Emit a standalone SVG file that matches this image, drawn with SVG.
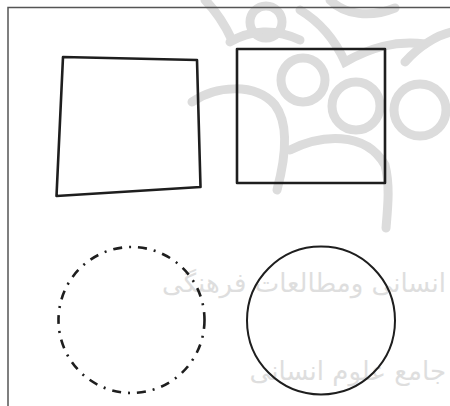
<svg xmlns="http://www.w3.org/2000/svg" width="450" height="406" viewBox="0 0 450 406">
  <style>
    .shape { fill: none; stroke: #1e1e1e; stroke-linejoin: round; }
    .wm { fill: none; stroke: #dcdcdc; stroke-width: 9; stroke-linecap: round; }
    .wmtext { fill: #dedede; font-family: "DejaVu Sans", "Noto Sans", sans-serif; font-size: 26px; text-anchor: end; }
  </style>
  <rect width="450" height="406" fill="#ffffff"/>
  <g id="watermark">
    <path class="wm" d="M192,102 C215,86 255,82 275,105 C290,125 285,160 277,190"/>
    <path class="wm" d="M290,150 C320,135 365,130 385,165 C390,185 388,205 386,228"/>
    <path class="wm" d="M205,0 C215,10 225,25 232,40"/>
    <path class="wm" d="M230,42 C250,30 275,28 300,40"/>
    <circle class="wm" cx="303" cy="80" r="22"/>
    <circle class="wm" cx="356" cy="106" r="24"/>
    <circle class="wm" cx="420" cy="110" r="26"/>
    <circle class="wm" cx="266" cy="22" r="16"/>
    <path class="wm" d="M300,10 C320,22 335,40 345,62 C370,48 395,40 425,44"/>
    <path class="wm" d="M330,0 C345,15 370,18 395,8"/>
    <path class="wm" d="M405,62 C420,45 438,35 452,32"/>
    <text class="wmtext" x="446" y="292">انسانی ومطالعات فرهنگی</text>
    <text class="wmtext" x="446" y="380">جامع علوم انسانی</text>
  </g>
  <g id="frame">
    <path d="M8,406 V7.5 H450" fill="none" stroke="#555" stroke-width="1.5"/>
  </g>
  <g id="quadrilateral">
    <path class="shape" stroke-width="2.6" d="M63,57 L197,60 L200.5,187 L56.5,196 Z"/>
  </g>
  <g id="square">
    <rect class="shape" stroke-width="2.6" x="237" y="49" width="148" height="134"/>
  </g>
  <g id="dashed-circle">
    <circle class="shape" stroke-width="2.6" cx="131.5" cy="320" r="73" stroke-dasharray="9 7 2 7"/>
  </g>
  <g id="solid-circle">
    <circle class="shape" stroke-width="2" cx="321" cy="320.5" r="74"/>
  </g>
</svg>
